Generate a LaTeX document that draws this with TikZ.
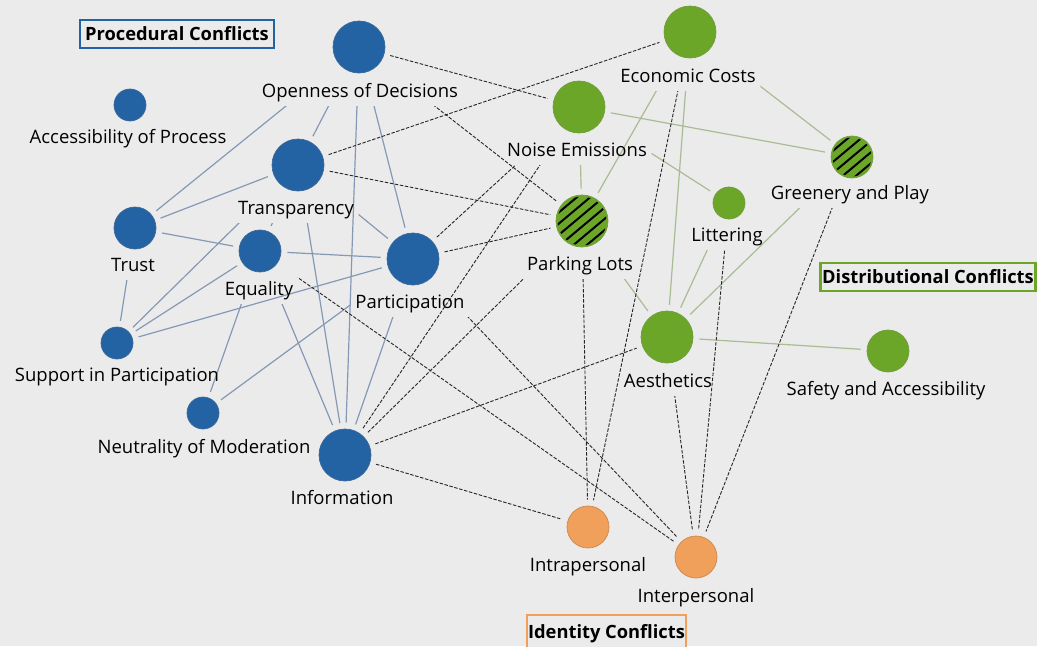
\documentclass[tikz,border=0pt]{standalone}
\usepackage{fontspec}
\setmainfont{Open Sans}
\usetikzlibrary{calc}
\pgfdeclarelayer{edges}
\pgfsetlayers{edges,main}
\definecolor{bgc}{HTML}{EBEBEB}
\definecolor{pblue}{HTML}{2362A3}
\definecolor{dgreen}{HTML}{6CA629}
\definecolor{iorange}{HTML}{F0A05A}
\definecolor{bedge}{HTML}{8599B6}
\definecolor{gedge}{HTML}{A9BC93}
\begin{document}
\begin{tikzpicture}[x=1pt,y=-1pt,
  dot/.style={circle, inner sep=0pt, line width=0.7pt, minimum size=#1},
  proc/.style={dot=#1, fill=pblue, draw=pblue!75!gray},
  dist/.style={dot=#1, fill=dgreen, draw=dgreen!80!gray},
  iden/.style={dot=#1, fill=iorange, draw=iorange!85!black},
  lab/.style={inner sep=1.5pt, anchor=base, text height=13.5pt, text depth=4.5pt,
    font=\fontsize{18.5}{20}\selectfont},
  legend/.style={line width=2.6pt, fill=bgc, inner sep=0pt, minimum height=28pt,
    font=\fontsize{18.3}{20}\selectfont\bfseries},
  pe/.style={draw=bedge, line width=1.2pt, shorten >=6pt, shorten <=6pt},
  ge/.style={draw=gedge, line width=1.2pt, shorten >=6pt, shorten <=6pt},
  xe/.style={draw=black!85, line width=0.9pt, dash pattern=on 3.5pt off 1.6pt, shorten >=6pt, shorten <=6pt},
  hatch/.style={draw=black, line width=2pt}
]
\useasboundingbox (0,0) rectangle (1037,646);
\clip (0,0) rectangle (1037,646);
\begin{pgfonlayer}{edges}
  \fill[bgc] (0,0) rectangle (1037,646);
\end{pgfonlayer}

% procedural nodes
\node[proc=52pt] (op) at (359,47) {};
\node[proc=32pt] (ac) at (130,105) {};
\node[proc=52pt] (ts) at (298,165) {};
\node[proc=42pt] (tu) at (135,228) {};
\node[proc=42pt] (eq) at (260,251) {};
\node[proc=52pt] (pa) at (413,259) {};
\node[proc=32pt] (su) at (117,343) {};
\node[proc=32pt] (ne) at (203,413) {};
\node[proc=52pt] (inf) at (345,455) {};
% distributional nodes
\node[dist=52pt] (ec) at (690,32) {};
\node[dist=52pt] (no) at (579,107) {};
\node[dist=42pt] (gr) at (852,157) {};
\node[dist=32pt] (li) at (729,203) {};
\node[dist=52pt] (pk) at (582,221) {};
\node[dist=52pt] (ae) at (667,337) {};
\node[dist=42pt] (sa) at (888,351) {};
% identity nodes
\node[iden=42pt] (ia) at (588,527) {};
\node[iden=42pt] (ie) at (696,557) {};

% hatching of the striped nodes
\begin{scope}
  \clip (pk) circle[radius=24.5pt];
  \begin{scope}[shift={(pk)}, rotate=40]
    \foreach \k in {-2.5,-1.5,...,2.5}
      \draw[hatch] (-30pt,\k*8.6pt) -- (30pt,\k*8.6pt);
  \end{scope}
\end{scope}
\begin{scope}
  \clip (gr) circle[radius=19.5pt];
  \begin{scope}[shift={(gr)}, rotate=40]
    \foreach \k in {-2,...,2}
      \draw[hatch] (-30pt,\k*8.5pt) -- (30pt,\k*8.5pt);
  \end{scope}
\end{scope}

% labels
\node[lab] (opL) at (360,97) {Openness of Decisions};
\node[lab] (acL) at (128,143) {Accessibility of Process};
\node[lab] (tsL) at (296,214) {Transparency};
\node[lab] (tuL) at (133,271) {Trust};
\node[lab] (eqL) at (259,295) {Equality};
\node[lab] (paL) at (410,308) {Participation};
\node[lab] (suL) at (117,381) {Support in Participation};
\node[lab] (neL) at (204,453) {Neutrality of Moderation};
\node[lab] (infL) at (342,504) {Information};
\node[lab] (ecL) at (688,82) {Economic Costs};
\node[lab] (noL) at (577,156) {Noise Emissions};
\node[lab] (grL) at (850,199) {Greenery and Play};
\node[lab] (liL) at (727,241) {Littering};
\node[lab] (pkL) at (580,270) {Parking Lots};
\node[lab] (aeL) at (668,387) {Aesthetics};
\node[lab] (saL) at (886,395) {Safety and Accessibility};
\node[lab] (iaL) at (588,571) {Intrapersonal};
\node[lab] (ieL) at (696,602) {Interpersonal};

% keep-out area below each dot: from the dot centre down to the foot of its label
% (corners given right-top then left-bottom, so the area is cut out of a clip)
\foreach \n in {op,ts,tu,eq,pa,ec,no,gr,li,pk,ae} {
  \coordinate (\n-a) at ($(\n L.east |- \n.center) + (3,0)$);
  \coordinate (\n-b) at ($(\n L.south west) + (-3,3)$);
}
\coordinate (none-a) at (-20,-20);
\coordinate (none-b) at (-20,-20);

% connectors: from/to/keep-out at start/keep-out at end
\begin{pgfonlayer}{edges}
  % within procedural conflicts
  \foreach \a/\b/\ha/\hb in {op/tu/op/none, op/ts/op/none, op/inf/op/none, op/pa/op/none,
      ts/tu/none/none, ts/su/ts/none, ts/eq/ts/none, ts/pa/ts/none, ts/inf/ts/none,
      tu/eq/none/none, tu/su/tu/none, su/eq/none/none, su/pa/none/none,
      eq/ne/eq/none, eq/inf/eq/none, eq/pa/none/none, ne/pa/none/pa, pa/inf/pa/none}
  {
    \begin{scope}
      \clip (0,0) rectangle (1037,646) (\ha-a) rectangle (\ha-b) (\hb-a) rectangle (\hb-b);
      \draw[pe] (\a) -- (\b);
    \end{scope}
  }
  % within distributional conflicts
  \foreach \a/\b/\ha/\hb in {no/pk/no/none, ec/pk/ec/none, ec/ae/ec/none, ec/gr/ec/none,
      no/gr/none/none, no/li/no/none, li/ae/li/none, gr/ae/gr/none, pk/ae/pk/none,
      ae/sa/none/none}
  {
    \begin{scope}
      \clip (0,0) rectangle (1037,646) (\ha-a) rectangle (\ha-b) (\hb-a) rectangle (\hb-b);
      \draw[ge] (\a) -- (\b);
    \end{scope}
  }
  % across categories
  \foreach \a/\b/\ha/\hb in {op/no/none/none, op/pk/op/none, ts/ec/none/none, ts/pk/none/none,
      pa/pk/none/none, pa/no/none/no, pa/ie/pa/none, inf/no/none/no, inf/pk/none/pk,
      inf/ae/none/none, inf/ia/none/none, eq/ie/eq/none, ec/ia/ec/none, pk/ia/pk/none,
      li/ie/li/none, gr/ie/gr/none, ae/ie/ae/none}
  {
    \begin{scope}
      \clip (0,0) rectangle (1037,646) (\ha-a) rectangle (\ha-b) (\hb-a) rectangle (\hb-b);
      \draw[xe] (\a) -- (\b);
    \end{scope}
  }
\end{pgfonlayer}

% category legends
\node[legend, draw=pblue, minimum width=194pt] (lgP) at (177,34) {Procedural Conflicts};
\node[legend, draw=dgreen, minimum width=215pt] (lgD) at (928,277) {Distributional Conflicts};
\node[legend, draw=iorange, minimum width=159pt, minimum height=40pt] (lgI) at (606.5,635) {};
\node[anchor=base, font=\fontsize{18.3}{20}\selectfont\bfseries] (lgIt) at (606.5,638) {Identity Conflicts};
\end{tikzpicture}
\end{document}
